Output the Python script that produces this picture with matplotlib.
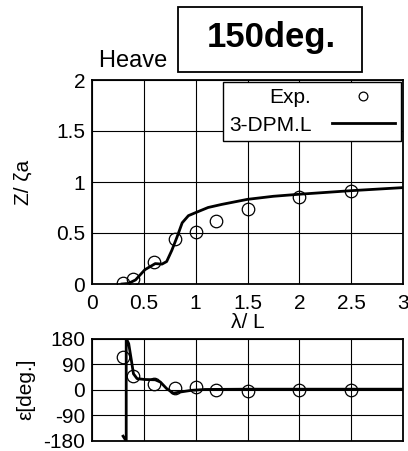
import matplotlib
matplotlib.use('Agg')
import matplotlib.pyplot as plt
from matplotlib.patches import Rectangle

plt.rcParams['font.family'] = ['Liberation Sans', 'DejaVu Sans']
plt.rcParams['axes.unicode_minus'] = False

# ── 実験値 ──
lam_exp = [0.3, 0.4, 0.6, 0.8, 1.0, 1.2, 1.5, 2.0, 2.5]
amp_exp = [0.01, 0.05, 0.22, 0.44, 0.51, 0.62, 0.74, 0.855, 0.91]
phase_exp = [115, 50, 21, 7, 9, -2, -3, -2, -2]

# ── 3-DPM.L 計算値 ──
lam_amp = [0.29, 0.35, 0.42, 0.51, 0.61, 0.675, 0.72, 0.77, 0.82, 0.87, 0.93,
           1.0, 1.12, 1.25, 1.5, 1.75, 2.0, 2.5, 3.0]
amp_calc = [0.0, 0.005, 0.04, 0.14, 0.20, 0.195, 0.22, 0.33, 0.46, 0.60, 0.67,
            0.70, 0.75, 0.78, 0.83, 0.86, 0.88, 0.915, 0.945]
lam_ph = [0.30, 0.33, 0.33, 0.354, 0.38, 0.40, 0.435, 0.51, 0.61, 0.66, 0.72,
          0.785, 0.85, 0.96, 1.09, 1.5, 2.0, 2.5, 3.0]
phase_calc = [-163, -180, 180, 162, 103, 56, 39, 36, 35, 27, 4,
              -12, -8, -2, 1, 2, 2, 2, 2]

W, H = 408, 451
fig = plt.figure(figsize=(W / 100, H / 100), dpi=100)

ax1 = fig.add_axes([92 / W, (H - 284) / H, 311 / W, 204 / H])
ax2 = fig.add_axes([92 / W, (H - 441) / H, 311 / W, 102.5 / H])

fs = 15
for ax in (ax1, ax2):
    ax.set_xlim(0, 3)
    ax.set_xticks([0, 0.5, 1, 1.5, 2, 2.5, 3])
    ax.grid(True, color='black', linewidth=0.8)
    ax.tick_params(length=0, labelsize=fs, pad=5)
    ax.tick_params(axis='x', pad=7)
    for s in ax.spines.values():
        s.set_linewidth(1.3)
    ax.set_axisbelow(True)

# 振幅
ax1.plot(lam_exp, amp_exp, 'o', mfc='none', mec='black', ms=9, mew=0.9,
         label='Exp.')
ax1.plot(lam_amp, amp_calc, '-', color='black', lw=2, label='3-DPM.L')
ax1.set_ylim(0, 2)
ax1.set_yticks([0, 0.5, 1, 1.5, 2])
ax1.set_xticklabels(['0', '0.5', '1', '1.5', '2', '2.5', '3'])
ax1.set_yticklabels(['0', '0.5', '1', '1.5', '2'])
ax1.set_xlabel('λ/ L', fontsize=fs, labelpad=0)
ax1.set_ylabel('Z/ ζa', fontsize=fs, labelpad=17)
ax1.legend(loc='upper right', fontsize=fs, markerfirst=False, frameon=True,
           fancybox=False, edgecolor='black', framealpha=1, markerscale=0.7,
           handlelength=3.0, borderaxespad=0.1, borderpad=0.3,
           labelspacing=0.4, handletextpad=1.0)
ax1.get_legend().get_frame().set_linewidth(1.0)

# 位相
ax2.plot(lam_exp, phase_exp, 'o', mfc='none', mec='black', ms=9, mew=0.9)
ax2.plot(lam_ph, phase_calc, '-', color='black', lw=2)
ax2.set_ylim(-180, 180)
ax2.set_yticks([-180, -90, 0, 90, 180])
ax2.set_xticklabels([])
ax2.set_ylabel('ε[deg.]', fontsize=fs, labelpad=6)

# タイトルと見出し
fig.text(99 / W, (H - 67) / H, 'Heave   Amplitude Ratio', fontsize=17,
         ha='left', va='baseline')
fig.add_artist(Rectangle((178 / W, (H - 72) / H), 184 / W, 65 / H,
                         transform=fig.transFigure, facecolor='white',
                         edgecolor='black', linewidth=1.3, zorder=5))
fig.text(271 / W, (H - 37) / H, '150deg.', fontsize=25, fontweight='bold',
         ha='center', va='center', zorder=6)

fig.savefig('out.png', dpi=100)
